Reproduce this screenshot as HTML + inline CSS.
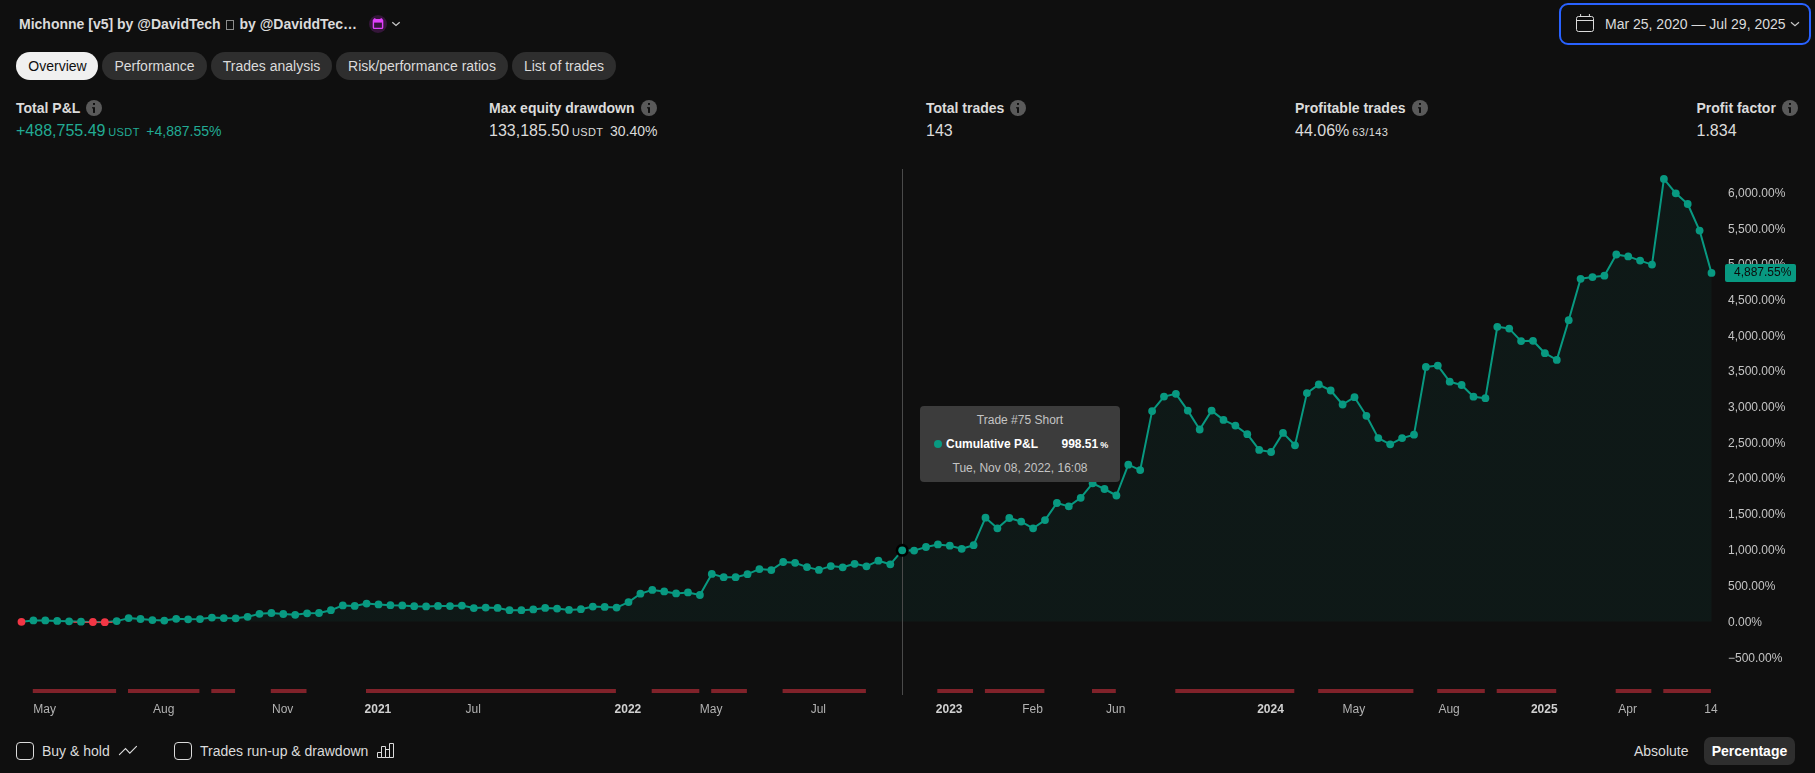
<!DOCTYPE html>
<html>
<head>
<meta charset="utf-8">
<title>Strategy report</title>
<style>
*{box-sizing:border-box;margin:0;padding:0}
html,body{width:1815px;height:773px;overflow:hidden;background:#0f0f0f}
body{font-family:"Liberation Sans",sans-serif;color:#dbdbdb;position:relative;font-size:14px}
.abs{position:absolute;white-space:nowrap}
.title{left:19px;top:16px;font-weight:bold;font-size:14px;line-height:16px;color:#dbdbdb}
.tofu{display:inline-block;width:8px;height:10px;border:1px solid #8c8c8c;margin:0 2px 0 1px;vertical-align:-1px}
.pill{position:absolute;top:52px;height:28px;border-radius:14px;background:#2e2e2e;color:#dbdbdb;font-size:14px;line-height:28px;text-align:center;white-space:nowrap}
.pill.on{background:#f0f0f0;color:#0f0f0f}
.mlab{font-weight:bold;font-size:14px;line-height:16px;color:#dbdbdb;top:100px}
.mval{font-size:16px;line-height:20px;top:121px;color:#dbdbdb}
.mval small{font-size:11px;letter-spacing:0.4px}
.mval .p{font-size:14px}
.green{color:#22ab94}
.info{position:absolute;top:100px;width:16px;height:16px}
.chart{position:absolute;left:0;top:0}
.xl{position:absolute;top:702px;width:60px;text-align:center;font-size:12px;line-height:14px;color:#b2b2b2;white-space:nowrap}
.xl.b{font-weight:bold;color:#d1d1d1}
.gs{position:absolute;left:0;top:0;width:1815px;height:773px;will-change:transform}
.yl{position:absolute;left:1728px;font-size:12px;line-height:16px;color:#c4c4c4;white-space:nowrap}
.plabel{position:absolute;left:1725px;top:264px;width:71px;height:17.7px;border-radius:2px;background:#089981;color:#0c0c0c;font-size:12px;line-height:16px;padding-left:9px;white-space:nowrap}
.tip{position:absolute;left:920px;top:406px;width:200px;height:76px;background:#3c3c3c;border-radius:4px;color:#c4c4c4;font-size:12px}
.tip div{position:absolute;white-space:nowrap}
.cb{position:absolute;top:742px;width:18px;height:18px;border:1px solid #dbdbdb;border-radius:4px}
.btxt{top:742px;font-size:14px;line-height:18px;color:#dbdbdb}
.datebtn{position:absolute;left:1559px;top:3px;width:252px;height:42px;border:2px solid #2962ff;border-radius:9px}
</style>
</head>
<body>
<div class="abs title">Michonne [v5] by @DavidTech <span class="tofu"></span> by @DaviddTec…</div>
<svg class="abs" style="left:368px;top:14px" width="40" height="20" viewBox="0 0 40 20">
<circle cx="10" cy="10" r="9" fill="#35163a"/>
<path d="M6.7 4.3v1.5M13.3 4.3v1.5" stroke="#e040fb" stroke-width="1.6" fill="none"/>
<rect x="5.4" y="5.6" width="9.2" height="8.8" rx="1" fill="none" stroke="#e040fb" stroke-width="1.4"/>
<rect x="5.4" y="5.6" width="9.2" height="3" fill="#e040fb"/>
<path d="M24.3 8.2l3.7 3.2 3.7-3.2" stroke="#c8c8c8" stroke-width="1.3" fill="none"/>
</svg>

<div class="datebtn"></div>
<svg class="abs" style="left:1574px;top:12px" width="22" height="22" viewBox="0 0 22 22" fill="none" stroke="#dbdbdb" stroke-width="1">
<rect x="2.5" y="4.5" width="17" height="15" rx="2"/>
<path d="M2.5 8.5h17M6.6 2v2.5M15.4 2v2.5"/>
</svg>
<div class="abs" style="left:1605px;top:15px;font-size:14px;line-height:18px;color:#dbdbdb">Mar 25, 2020 — Jul 29, 2025</div>
<svg class="abs" style="left:1788px;top:18px" width="14" height="12" viewBox="0 0 14 12"><path d="M3 4.2l4 3.5 4-3.5" stroke="#c8c8c8" stroke-width="1.2" fill="none"/></svg>

<div class="pill on" style="left:16px;width:82px;padding-left:1px">Overview</div>
<div class="pill" style="left:102px;width:105px">Performance</div>
<div class="pill" style="left:211px;width:121px">Trades analysis</div>
<div class="pill" style="left:336px;width:172px">Risk/performance ratios</div>
<div class="pill" style="left:512px;width:104px">List of trades</div>

<div class="abs mlab" style="left:16px">Total P&amp;L</div>
<div class="abs mval green" style="left:16px">+488,755.49<small style="margin-left:2.8px">USDT</small><span class="p" style="margin-left:6.6px">+4,887.55%</span></div>
<div class="abs mlab" style="left:489px">Max equity drawdown</div>
<div class="abs mval" style="left:489px">133,185.50<small style="margin-left:2.8px">USDT</small><span class="p" style="margin-left:6.6px">30.40%</span></div>
<div class="abs mlab" style="left:926px">Total trades</div>
<div class="abs mval" style="left:926px">143</div>
<div class="abs mlab" style="left:1295px">Profitable trades</div>
<div class="abs mval" style="left:1295px">44.06%<small style="margin-left:3px">63/143</small></div>
<div class="abs mlab" style="left:1696.5px">Profit factor</div>
<div class="abs mval" style="left:1696.5px">1.834</div>

<svg class="info" style="left:86px" viewBox="0 0 16 16"><circle cx="8" cy="8" r="8" fill="#5a5a5a"/><rect x="7" y="3" width="2" height="1.9" fill="#0f0f0f"/><rect x="7" y="7.2" width="2" height="5.7" fill="#0f0f0f"/><rect x="6" y="7.2" width="1.2" height="1.2" fill="#0f0f0f"/></svg>
<svg class="info" style="left:641px" viewBox="0 0 16 16"><circle cx="8" cy="8" r="8" fill="#5a5a5a"/><rect x="7" y="3" width="2" height="1.9" fill="#0f0f0f"/><rect x="7" y="7.2" width="2" height="5.7" fill="#0f0f0f"/><rect x="6" y="7.2" width="1.2" height="1.2" fill="#0f0f0f"/></svg>
<svg class="info" style="left:1010px" viewBox="0 0 16 16"><circle cx="8" cy="8" r="8" fill="#5a5a5a"/><rect x="7" y="3" width="2" height="1.9" fill="#0f0f0f"/><rect x="7" y="7.2" width="2" height="5.7" fill="#0f0f0f"/><rect x="6" y="7.2" width="1.2" height="1.2" fill="#0f0f0f"/></svg>
<svg class="info" style="left:1412px" viewBox="0 0 16 16"><circle cx="8" cy="8" r="8" fill="#5a5a5a"/><rect x="7" y="3" width="2" height="1.9" fill="#0f0f0f"/><rect x="7" y="7.2" width="2" height="5.7" fill="#0f0f0f"/><rect x="6" y="7.2" width="1.2" height="1.2" fill="#0f0f0f"/></svg>
<svg class="info" style="left:1782px" viewBox="0 0 16 16"><circle cx="8" cy="8" r="8" fill="#5a5a5a"/><rect x="7" y="3" width="2" height="1.9" fill="#0f0f0f"/><rect x="7" y="7.2" width="2" height="5.7" fill="#0f0f0f"/><rect x="6" y="7.2" width="1.2" height="1.2" fill="#0f0f0f"/></svg>

<svg class="chart" width="1815" height="773" viewBox="0 0 1815 773">
<defs><linearGradient id="ag" x1="0" y1="170" x2="0" y2="621" gradientUnits="userSpaceOnUse"><stop offset="0" stop-color="#089981" stop-opacity="0.07"/><stop offset="1" stop-color="#089981" stop-opacity="0.07"/></linearGradient></defs>
<path d="M21.5 621.5 L21.5 621.8 L33.4 620.4 L45.3 620.4 L57.2 620.9 L69.1 621.3 L81.0 621.7 L92.9 622.0 L104.8 622.2 L116.7 621.1 L128.6 618.1 L140.5 619.0 L152.4 620.1 L164.3 620.6 L176.2 618.8 L188.1 619.3 L200.0 619.1 L211.9 617.6 L223.8 618.1 L235.7 618.3 L247.6 616.8 L259.5 613.8 L271.4 613.0 L283.3 614.0 L295.2 614.8 L307.1 613.3 L319.0 613.0 L330.9 610.2 L342.8 605.4 L354.7 605.9 L366.6 603.6 L378.5 604.4 L390.4 605.2 L402.3 605.4 L414.2 606.2 L426.1 606.4 L438.0 605.9 L450.0 606.1 L461.9 605.6 L473.8 608.1 L485.7 607.6 L497.6 607.9 L509.5 610.2 L521.4 610.2 L533.3 609.4 L545.2 607.9 L557.1 608.6 L569.0 609.9 L580.9 609.2 L592.8 606.6 L604.7 606.9 L616.6 607.6 L628.5 602.1 L640.4 593.7 L652.3 589.9 L664.2 591.4 L676.1 593.4 L688.0 592.4 L699.9 595.0 L711.8 573.9 L723.7 577.2 L735.6 577.2 L747.5 574.2 L759.4 569.1 L771.3 570.1 L783.2 562.0 L795.1 562.8 L807.0 567.1 L818.9 569.9 L830.8 566.1 L842.7 567.3 L854.6 563.8 L866.5 566.3 L878.4 560.7 L890.3 564.3 L902.2 550.3 L914.1 550.6 L926.0 547.0 L937.9 544.4 L949.8 545.7 L961.7 548.8 L973.6 545.2 L985.5 517.7 L997.4 528.3 L1009.3 518.0 L1021.2 521.6 L1033.1 528.3 L1045.0 520.1 L1056.9 503.0 L1068.8 506.4 L1080.7 497.8 L1092.6 483.3 L1104.5 489.0 L1116.4 495.5 L1128.3 464.7 L1140.2 470.1 L1152.1 411.1 L1164.0 396.6 L1175.9 393.8 L1187.8 410.6 L1199.7 429.5 L1211.6 410.6 L1223.5 419.9 L1235.4 425.6 L1247.3 434.2 L1259.2 449.9 L1271.1 452.0 L1283.0 432.9 L1295.0 445.3 L1306.9 393.1 L1318.8 384.5 L1330.7 390.5 L1342.6 404.5 L1354.5 397.2 L1366.4 415.8 L1378.3 438.1 L1390.2 444.3 L1402.1 438.1 L1414.0 434.7 L1425.9 366.9 L1437.8 365.6 L1449.7 381.7 L1461.6 385.0 L1473.5 396.7 L1485.4 398.2 L1497.3 326.8 L1509.2 328.6 L1521.1 341.1 L1533.0 340.8 L1544.9 353.2 L1556.8 359.9 L1568.7 320.2 L1580.6 278.8 L1592.5 277.1 L1604.4 275.7 L1616.3 254.5 L1628.2 256.4 L1640.1 260.6 L1652.0 264.6 L1663.9 178.9 L1675.8 193.3 L1687.7 204.0 L1699.6 230.6 L1711.5 272.9 L1711.5 621.5 Z" fill="url(#ag)"/>
<rect x="902" y="169" width="1" height="526" fill="#4a4a4a"/>
<path d="M21.5 621.8 L33.4 620.4 L45.3 620.4 L57.2 620.9 L69.1 621.3 L81.0 621.7 L92.9 622.0 L104.8 622.2 L116.7 621.1 L128.6 618.1 L140.5 619.0 L152.4 620.1 L164.3 620.6 L176.2 618.8 L188.1 619.3 L200.0 619.1 L211.9 617.6 L223.8 618.1 L235.7 618.3 L247.6 616.8 L259.5 613.8 L271.4 613.0 L283.3 614.0 L295.2 614.8 L307.1 613.3 L319.0 613.0 L330.9 610.2 L342.8 605.4 L354.7 605.9 L366.6 603.6 L378.5 604.4 L390.4 605.2 L402.3 605.4 L414.2 606.2 L426.1 606.4 L438.0 605.9 L450.0 606.1 L461.9 605.6 L473.8 608.1 L485.7 607.6 L497.6 607.9 L509.5 610.2 L521.4 610.2 L533.3 609.4 L545.2 607.9 L557.1 608.6 L569.0 609.9 L580.9 609.2 L592.8 606.6 L604.7 606.9 L616.6 607.6 L628.5 602.1 L640.4 593.7 L652.3 589.9 L664.2 591.4 L676.1 593.4 L688.0 592.4 L699.9 595.0 L711.8 573.9 L723.7 577.2 L735.6 577.2 L747.5 574.2 L759.4 569.1 L771.3 570.1 L783.2 562.0 L795.1 562.8 L807.0 567.1 L818.9 569.9 L830.8 566.1 L842.7 567.3 L854.6 563.8 L866.5 566.3 L878.4 560.7 L890.3 564.3 L902.2 550.3 L914.1 550.6 L926.0 547.0 L937.9 544.4 L949.8 545.7 L961.7 548.8 L973.6 545.2 L985.5 517.7 L997.4 528.3 L1009.3 518.0 L1021.2 521.6 L1033.1 528.3 L1045.0 520.1 L1056.9 503.0 L1068.8 506.4 L1080.7 497.8 L1092.6 483.3 L1104.5 489.0 L1116.4 495.5 L1128.3 464.7 L1140.2 470.1 L1152.1 411.1 L1164.0 396.6 L1175.9 393.8 L1187.8 410.6 L1199.7 429.5 L1211.6 410.6 L1223.5 419.9 L1235.4 425.6 L1247.3 434.2 L1259.2 449.9 L1271.1 452.0 L1283.0 432.9 L1295.0 445.3 L1306.9 393.1 L1318.8 384.5 L1330.7 390.5 L1342.6 404.5 L1354.5 397.2 L1366.4 415.8 L1378.3 438.1 L1390.2 444.3 L1402.1 438.1 L1414.0 434.7 L1425.9 366.9 L1437.8 365.6 L1449.7 381.7 L1461.6 385.0 L1473.5 396.7 L1485.4 398.2 L1497.3 326.8 L1509.2 328.6 L1521.1 341.1 L1533.0 340.8 L1544.9 353.2 L1556.8 359.9 L1568.7 320.2 L1580.6 278.8 L1592.5 277.1 L1604.4 275.7 L1616.3 254.5 L1628.2 256.4 L1640.1 260.6 L1652.0 264.6 L1663.9 178.9 L1675.8 193.3 L1687.7 204.0 L1699.6 230.6 L1711.5 272.9" fill="none" stroke="#089981" stroke-width="2" stroke-linejoin="round"/>
<path d="M73.4 622.3H112.6" stroke="#f23645" stroke-width="1.1" fill="none"/>
<circle cx="21.5" cy="621.8" r="3.9" fill="#f23645"/>
<circle cx="33.4" cy="620.4" r="3.9" fill="#089981"/>
<circle cx="45.3" cy="620.4" r="3.9" fill="#089981"/>
<circle cx="57.2" cy="620.9" r="3.9" fill="#089981"/>
<circle cx="69.1" cy="621.3" r="3.9" fill="#089981"/>
<circle cx="81.0" cy="621.7" r="3.9" fill="#089981"/>
<circle cx="92.9" cy="622.0" r="3.9" fill="#f23645"/>
<circle cx="104.8" cy="622.2" r="3.9" fill="#f23645"/>
<circle cx="116.7" cy="621.1" r="3.9" fill="#089981"/>
<circle cx="128.6" cy="618.1" r="3.9" fill="#089981"/>
<circle cx="140.5" cy="619.0" r="3.9" fill="#089981"/>
<circle cx="152.4" cy="620.1" r="3.9" fill="#089981"/>
<circle cx="164.3" cy="620.6" r="3.9" fill="#089981"/>
<circle cx="176.2" cy="618.8" r="3.9" fill="#089981"/>
<circle cx="188.1" cy="619.3" r="3.9" fill="#089981"/>
<circle cx="200.0" cy="619.1" r="3.9" fill="#089981"/>
<circle cx="211.9" cy="617.6" r="3.9" fill="#089981"/>
<circle cx="223.8" cy="618.1" r="3.9" fill="#089981"/>
<circle cx="235.7" cy="618.3" r="3.9" fill="#089981"/>
<circle cx="247.6" cy="616.8" r="3.9" fill="#089981"/>
<circle cx="259.5" cy="613.8" r="3.9" fill="#089981"/>
<circle cx="271.4" cy="613.0" r="3.9" fill="#089981"/>
<circle cx="283.3" cy="614.0" r="3.9" fill="#089981"/>
<circle cx="295.2" cy="614.8" r="3.9" fill="#089981"/>
<circle cx="307.1" cy="613.3" r="3.9" fill="#089981"/>
<circle cx="319.0" cy="613.0" r="3.9" fill="#089981"/>
<circle cx="330.9" cy="610.2" r="3.9" fill="#089981"/>
<circle cx="342.8" cy="605.4" r="3.9" fill="#089981"/>
<circle cx="354.7" cy="605.9" r="3.9" fill="#089981"/>
<circle cx="366.6" cy="603.6" r="3.9" fill="#089981"/>
<circle cx="378.5" cy="604.4" r="3.9" fill="#089981"/>
<circle cx="390.4" cy="605.2" r="3.9" fill="#089981"/>
<circle cx="402.3" cy="605.4" r="3.9" fill="#089981"/>
<circle cx="414.2" cy="606.2" r="3.9" fill="#089981"/>
<circle cx="426.1" cy="606.4" r="3.9" fill="#089981"/>
<circle cx="438.0" cy="605.9" r="3.9" fill="#089981"/>
<circle cx="450.0" cy="606.1" r="3.9" fill="#089981"/>
<circle cx="461.9" cy="605.6" r="3.9" fill="#089981"/>
<circle cx="473.8" cy="608.1" r="3.9" fill="#089981"/>
<circle cx="485.7" cy="607.6" r="3.9" fill="#089981"/>
<circle cx="497.6" cy="607.9" r="3.9" fill="#089981"/>
<circle cx="509.5" cy="610.2" r="3.9" fill="#089981"/>
<circle cx="521.4" cy="610.2" r="3.9" fill="#089981"/>
<circle cx="533.3" cy="609.4" r="3.9" fill="#089981"/>
<circle cx="545.2" cy="607.9" r="3.9" fill="#089981"/>
<circle cx="557.1" cy="608.6" r="3.9" fill="#089981"/>
<circle cx="569.0" cy="609.9" r="3.9" fill="#089981"/>
<circle cx="580.9" cy="609.2" r="3.9" fill="#089981"/>
<circle cx="592.8" cy="606.6" r="3.9" fill="#089981"/>
<circle cx="604.7" cy="606.9" r="3.9" fill="#089981"/>
<circle cx="616.6" cy="607.6" r="3.9" fill="#089981"/>
<circle cx="628.5" cy="602.1" r="3.9" fill="#089981"/>
<circle cx="640.4" cy="593.7" r="3.9" fill="#089981"/>
<circle cx="652.3" cy="589.9" r="3.9" fill="#089981"/>
<circle cx="664.2" cy="591.4" r="3.9" fill="#089981"/>
<circle cx="676.1" cy="593.4" r="3.9" fill="#089981"/>
<circle cx="688.0" cy="592.4" r="3.9" fill="#089981"/>
<circle cx="699.9" cy="595.0" r="3.9" fill="#089981"/>
<circle cx="711.8" cy="573.9" r="3.9" fill="#089981"/>
<circle cx="723.7" cy="577.2" r="3.9" fill="#089981"/>
<circle cx="735.6" cy="577.2" r="3.9" fill="#089981"/>
<circle cx="747.5" cy="574.2" r="3.9" fill="#089981"/>
<circle cx="759.4" cy="569.1" r="3.9" fill="#089981"/>
<circle cx="771.3" cy="570.1" r="3.9" fill="#089981"/>
<circle cx="783.2" cy="562.0" r="3.9" fill="#089981"/>
<circle cx="795.1" cy="562.8" r="3.9" fill="#089981"/>
<circle cx="807.0" cy="567.1" r="3.9" fill="#089981"/>
<circle cx="818.9" cy="569.9" r="3.9" fill="#089981"/>
<circle cx="830.8" cy="566.1" r="3.9" fill="#089981"/>
<circle cx="842.7" cy="567.3" r="3.9" fill="#089981"/>
<circle cx="854.6" cy="563.8" r="3.9" fill="#089981"/>
<circle cx="866.5" cy="566.3" r="3.9" fill="#089981"/>
<circle cx="878.4" cy="560.7" r="3.9" fill="#089981"/>
<circle cx="890.3" cy="564.3" r="3.9" fill="#089981"/>
<circle cx="902.2" cy="550.3" r="6.5" fill="#000"/>
<circle cx="902.2" cy="550.3" r="3.9" fill="#089981"/>
<circle cx="914.1" cy="550.6" r="3.9" fill="#089981"/>
<circle cx="926.0" cy="547.0" r="3.9" fill="#089981"/>
<circle cx="937.9" cy="544.4" r="3.9" fill="#089981"/>
<circle cx="949.8" cy="545.7" r="3.9" fill="#089981"/>
<circle cx="961.7" cy="548.8" r="3.9" fill="#089981"/>
<circle cx="973.6" cy="545.2" r="3.9" fill="#089981"/>
<circle cx="985.5" cy="517.7" r="3.9" fill="#089981"/>
<circle cx="997.4" cy="528.3" r="3.9" fill="#089981"/>
<circle cx="1009.3" cy="518.0" r="3.9" fill="#089981"/>
<circle cx="1021.2" cy="521.6" r="3.9" fill="#089981"/>
<circle cx="1033.1" cy="528.3" r="3.9" fill="#089981"/>
<circle cx="1045.0" cy="520.1" r="3.9" fill="#089981"/>
<circle cx="1056.9" cy="503.0" r="3.9" fill="#089981"/>
<circle cx="1068.8" cy="506.4" r="3.9" fill="#089981"/>
<circle cx="1080.7" cy="497.8" r="3.9" fill="#089981"/>
<circle cx="1092.6" cy="483.3" r="3.9" fill="#089981"/>
<circle cx="1104.5" cy="489.0" r="3.9" fill="#089981"/>
<circle cx="1116.4" cy="495.5" r="3.9" fill="#089981"/>
<circle cx="1128.3" cy="464.7" r="3.9" fill="#089981"/>
<circle cx="1140.2" cy="470.1" r="3.9" fill="#089981"/>
<circle cx="1152.1" cy="411.1" r="3.9" fill="#089981"/>
<circle cx="1164.0" cy="396.6" r="3.9" fill="#089981"/>
<circle cx="1175.9" cy="393.8" r="3.9" fill="#089981"/>
<circle cx="1187.8" cy="410.6" r="3.9" fill="#089981"/>
<circle cx="1199.7" cy="429.5" r="3.9" fill="#089981"/>
<circle cx="1211.6" cy="410.6" r="3.9" fill="#089981"/>
<circle cx="1223.5" cy="419.9" r="3.9" fill="#089981"/>
<circle cx="1235.4" cy="425.6" r="3.9" fill="#089981"/>
<circle cx="1247.3" cy="434.2" r="3.9" fill="#089981"/>
<circle cx="1259.2" cy="449.9" r="3.9" fill="#089981"/>
<circle cx="1271.1" cy="452.0" r="3.9" fill="#089981"/>
<circle cx="1283.0" cy="432.9" r="3.9" fill="#089981"/>
<circle cx="1295.0" cy="445.3" r="3.9" fill="#089981"/>
<circle cx="1306.9" cy="393.1" r="3.9" fill="#089981"/>
<circle cx="1318.8" cy="384.5" r="3.9" fill="#089981"/>
<circle cx="1330.7" cy="390.5" r="3.9" fill="#089981"/>
<circle cx="1342.6" cy="404.5" r="3.9" fill="#089981"/>
<circle cx="1354.5" cy="397.2" r="3.9" fill="#089981"/>
<circle cx="1366.4" cy="415.8" r="3.9" fill="#089981"/>
<circle cx="1378.3" cy="438.1" r="3.9" fill="#089981"/>
<circle cx="1390.2" cy="444.3" r="3.9" fill="#089981"/>
<circle cx="1402.1" cy="438.1" r="3.9" fill="#089981"/>
<circle cx="1414.0" cy="434.7" r="3.9" fill="#089981"/>
<circle cx="1425.9" cy="366.9" r="3.9" fill="#089981"/>
<circle cx="1437.8" cy="365.6" r="3.9" fill="#089981"/>
<circle cx="1449.7" cy="381.7" r="3.9" fill="#089981"/>
<circle cx="1461.6" cy="385.0" r="3.9" fill="#089981"/>
<circle cx="1473.5" cy="396.7" r="3.9" fill="#089981"/>
<circle cx="1485.4" cy="398.2" r="3.9" fill="#089981"/>
<circle cx="1497.3" cy="326.8" r="3.9" fill="#089981"/>
<circle cx="1509.2" cy="328.6" r="3.9" fill="#089981"/>
<circle cx="1521.1" cy="341.1" r="3.9" fill="#089981"/>
<circle cx="1533.0" cy="340.8" r="3.9" fill="#089981"/>
<circle cx="1544.9" cy="353.2" r="3.9" fill="#089981"/>
<circle cx="1556.8" cy="359.9" r="3.9" fill="#089981"/>
<circle cx="1568.7" cy="320.2" r="3.9" fill="#089981"/>
<circle cx="1580.6" cy="278.8" r="3.9" fill="#089981"/>
<circle cx="1592.5" cy="277.1" r="3.9" fill="#089981"/>
<circle cx="1604.4" cy="275.7" r="3.9" fill="#089981"/>
<circle cx="1616.3" cy="254.5" r="3.9" fill="#089981"/>
<circle cx="1628.2" cy="256.4" r="3.9" fill="#089981"/>
<circle cx="1640.1" cy="260.6" r="3.9" fill="#089981"/>
<circle cx="1652.0" cy="264.6" r="3.9" fill="#089981"/>
<circle cx="1663.9" cy="178.9" r="3.9" fill="#089981"/>
<circle cx="1675.8" cy="193.3" r="3.9" fill="#089981"/>
<circle cx="1687.7" cy="204.0" r="3.9" fill="#089981"/>
<circle cx="1699.6" cy="230.6" r="3.9" fill="#089981"/>
<circle cx="1711.5" cy="272.9" r="3.9" fill="#089981"/>
<rect x="32.8" y="689" width="83.3" height="4" fill="#80222a"/>
<rect x="128.0" y="689" width="71.4" height="4" fill="#80222a"/>
<rect x="211.3" y="689" width="23.8" height="4" fill="#80222a"/>
<rect x="270.8" y="689" width="35.7" height="4" fill="#80222a"/>
<rect x="366.0" y="689" width="249.9" height="4" fill="#80222a"/>
<rect x="651.7" y="689" width="47.6" height="4" fill="#80222a"/>
<rect x="711.2" y="689" width="35.7" height="4" fill="#80222a"/>
<rect x="782.6" y="689" width="83.3" height="4" fill="#80222a"/>
<rect x="937.3" y="689" width="35.7" height="4" fill="#80222a"/>
<rect x="984.9" y="689" width="59.5" height="4" fill="#80222a"/>
<rect x="1092.0" y="689" width="23.8" height="4" fill="#80222a"/>
<rect x="1175.3" y="689" width="119.0" height="4" fill="#80222a"/>
<rect x="1318.2" y="689" width="95.2" height="4" fill="#80222a"/>
<rect x="1437.2" y="689" width="47.6" height="4" fill="#80222a"/>
<rect x="1496.7" y="689" width="59.5" height="4" fill="#80222a"/>
<rect x="1615.7" y="689" width="35.7" height="4" fill="#80222a"/>
<rect x="1663.3" y="689" width="47.6" height="4" fill="#80222a"/>
</svg>

<div class="tip">
<div style="left:0;width:200px;text-align:center;top:7px;line-height:14px">Trade #75 Short</div>
<svg style="position:absolute;left:13px;top:33px" width="10" height="10"><circle cx="5" cy="5" r="4" fill="#089981"/></svg>
<div style="left:26px;top:31px;line-height:14px;font-weight:bold;color:#fff">Cumulative P&amp;L</div>
<div style="left:141.5px;top:31px;line-height:14px;font-weight:bold;color:#fff">998.51<span style="font-size:9px;margin-left:2px">%</span></div>
<div style="left:0;width:200px;text-align:center;top:55px;line-height:14px">Tue, Nov 08, 2022, 16:08</div>
</div>

<div class="cb" style="left:16px"></div>
<div class="abs btxt" style="left:42px">Buy &amp; hold</div>
<svg class="abs" style="left:118px;top:741px" width="20" height="20" viewBox="0 0 20 20"><path d="M1.4 13.7L7.5 7.6 11.8 12.2 18.5 5.4" stroke="#dbdbdb" stroke-width="1.1" fill="none" stroke-linecap="round"/></svg>
<div class="cb" style="left:174px"></div>
<div class="abs btxt" style="left:200px">Trades run-up &amp; drawdown</div>
<svg class="abs" style="left:376px;top:741px" width="20" height="20" viewBox="0 0 20 20" fill="none" stroke="#dbdbdb" stroke-width="1"><path d="M1.5 16.5v-5h4v5zM5.5 16.5v-11h4v11zM9.5 16.5v-8h4v8zM13.5 16.5v-14h4v14z"/></svg>

<div class="abs" style="left:1634px;top:742px;font-size:14px;line-height:18px;color:#dbdbdb">Absolute</div>
<div class="abs" style="left:1704px;top:737px;width:91px;height:28px;border-radius:7px;background:#2e2e2e;color:#fff;font-weight:bold;font-size:14px;line-height:28px;text-align:center">Percentage</div>
<div class="gs">
<div class="xl" style="left:14.7px">May</div>
<div class="xl" style="left:133.7px">Aug</div>
<div class="xl" style="left:252.7px">Nov</div>
<div class="xl b" style="left:347.9px">2021</div>
<div class="xl" style="left:443.2px">Jul</div>
<div class="xl b" style="left:597.9px">2022</div>
<div class="xl" style="left:681.2px">May</div>
<div class="xl" style="left:788.3px">Jul</div>
<div class="xl b" style="left:919.2px">2023</div>
<div class="xl" style="left:1002.5px">Feb</div>
<div class="xl" style="left:1085.8px">Jun</div>
<div class="xl b" style="left:1240.5px">2024</div>
<div class="xl" style="left:1323.9px">May</div>
<div class="xl" style="left:1419.1px">Aug</div>
<div class="xl b" style="left:1514.3px">2025</div>
<div class="xl" style="left:1597.6px">Apr</div>
<div class="xl" style="left:1680.9px">14</div>
<div class="yl" style="top:185px">6,000.00%</div>
<div class="yl" style="top:221px">5,500.00%</div>
<div class="yl" style="top:256px">5,000.00%</div>
<div class="yl" style="top:292px">4,500.00%</div>
<div class="yl" style="top:328px">4,000.00%</div>
<div class="yl" style="top:363px">3,500.00%</div>
<div class="yl" style="top:399px">3,000.00%</div>
<div class="yl" style="top:435px">2,500.00%</div>
<div class="yl" style="top:470px">2,000.00%</div>
<div class="yl" style="top:506px">1,500.00%</div>
<div class="yl" style="top:542px">1,000.00%</div>
<div class="yl" style="top:578px">500.00%</div>
<div class="yl" style="top:614px">0.00%</div>
<div class="yl" style="top:650px">−500.00%</div>
<div class="plabel">4,887.55%</div>
</div>
</body>
</html>
